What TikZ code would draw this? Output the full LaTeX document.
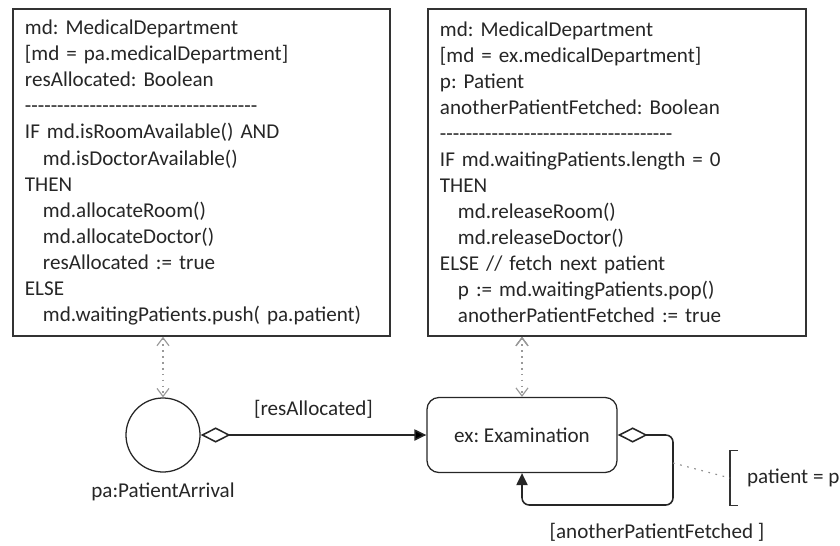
\documentclass[tikz,border=0pt]{standalone}
\usepackage{fontspec}
\setmainfont{Carlito}
\usetikzlibrary{arrows.meta}
\frenchspacing
\newcommand{\sepline}{\foreach \i in {1,...,36}{-}}

\begin{document}
\begin{tikzpicture}[x=0.025cm, y=-0.025cm,
  every node/.style={font=\fontsize{15}{18.5}\selectfont, text=black!85},
  code box/.style={rectangle, draw=black!80, line width=1.1pt, align=left, inner xsep=0.3cm, minimum height=8.175cm},
  event node/.style={circle, draw=black!85, line width=0.9pt, minimum size=1.85cm},
  activity node/.style={rectangle, rounded corners=0.3cm, draw=black!85, line width=0.9pt, minimum width=4.75cm, minimum height=1.875cm},
  flow/.style={draw=black!85, line width=1.1pt, {Diamond[open, length=0.75cm, width=0.38cm]}-{Triangle[length=0.3cm, width=0.28cm]}},
  link/.style={draw=black!40, line width=0.8pt, dash pattern=on 1.2pt off 3pt, {Straight Barb[length=0.2cm, width=0.3cm]}-{Straight Barb[length=0.2cm, width=0.3cm]}}]
  \useasboundingbox (0,0) rectangle (840,545);

  % rule boxes
  \node[code box, text width=8.825cm] (pacode) at (201.5,172.5) {md: MedicalDepartment\\
    {[md = pa.medicalDepartment]}\\
    resAllocated: Boolean\\
    \sepline\\
    IF md.isRoomAvailable() AND\\
    \hspace*{0.45cm}md.isDoctorAvailable()\\
    THEN\\
    \hspace*{0.45cm}md.allocateRoom()\\
    \hspace*{0.45cm}md.allocateDoctor()\\
    \hspace*{0.45cm}resAllocated := true\\
    ELSE\\
    \hspace*{0.45cm}md.waitingPatients.push( pa.patient)};
  \node[code box, text width=8.85cm] (excode) at (617,172.5) {md: MedicalDepartment\\
    {[md = ex.medicalDepartment]}\\
    p: Patient\\
    anotherPatientFetched: Boolean\\
    \sepline\\
    IF md.waitingPatients.length = 0\\
    THEN\\
    \hspace*{0.45cm}md.releaseRoom()\\
    \hspace*{0.45cm}md.releaseDoctor()\\
    ELSE // fetch next patient\\
    \hspace*{0.45cm}p := md.waitingPatients.pop()\\
    \hspace*{0.45cm}anotherPatientFetched := true};

  % event and activity
  \node[event node] (pa) at (163,435) {};
  \node (palabel) at (163,492) {pa:PatientArrival};
  \node[activity node] (ex) at (522,435) {ex: Examination};

  % parameter note
  \node[anchor=west, inner xsep=0.42cm, minimum height=1.375cm] (note) at (730,478) {patient = p};
  \draw[black!80, line width=1pt] ([xshift=0.2cm]note.north west) -- (note.north west) -- (note.south west) -- ([xshift=0.2cm]note.south west);
  \coordinate (loopdot) at (673,463);

  \path (pa) [flow] edge node[above=0.28cm] {[resAllocated]} (ex);
  \draw[flow, rounded corners=0.18cm] (ex.east) -- (673,435) -- (673,505) -- (522,505) -- (ex.south);
  \node (looplabel) at (657,532) {[anotherPatientFetched ]};
  \path (pa.north |- pacode.south) [link] edge (pa.north)
  (ex.north |- excode.south) [link] edge (ex.north);
  \draw[black!45, line width=0.8pt, dash pattern=on 1.2pt off 4pt] (loopdot) -- (note.west);
\end{tikzpicture}
\end{document}
